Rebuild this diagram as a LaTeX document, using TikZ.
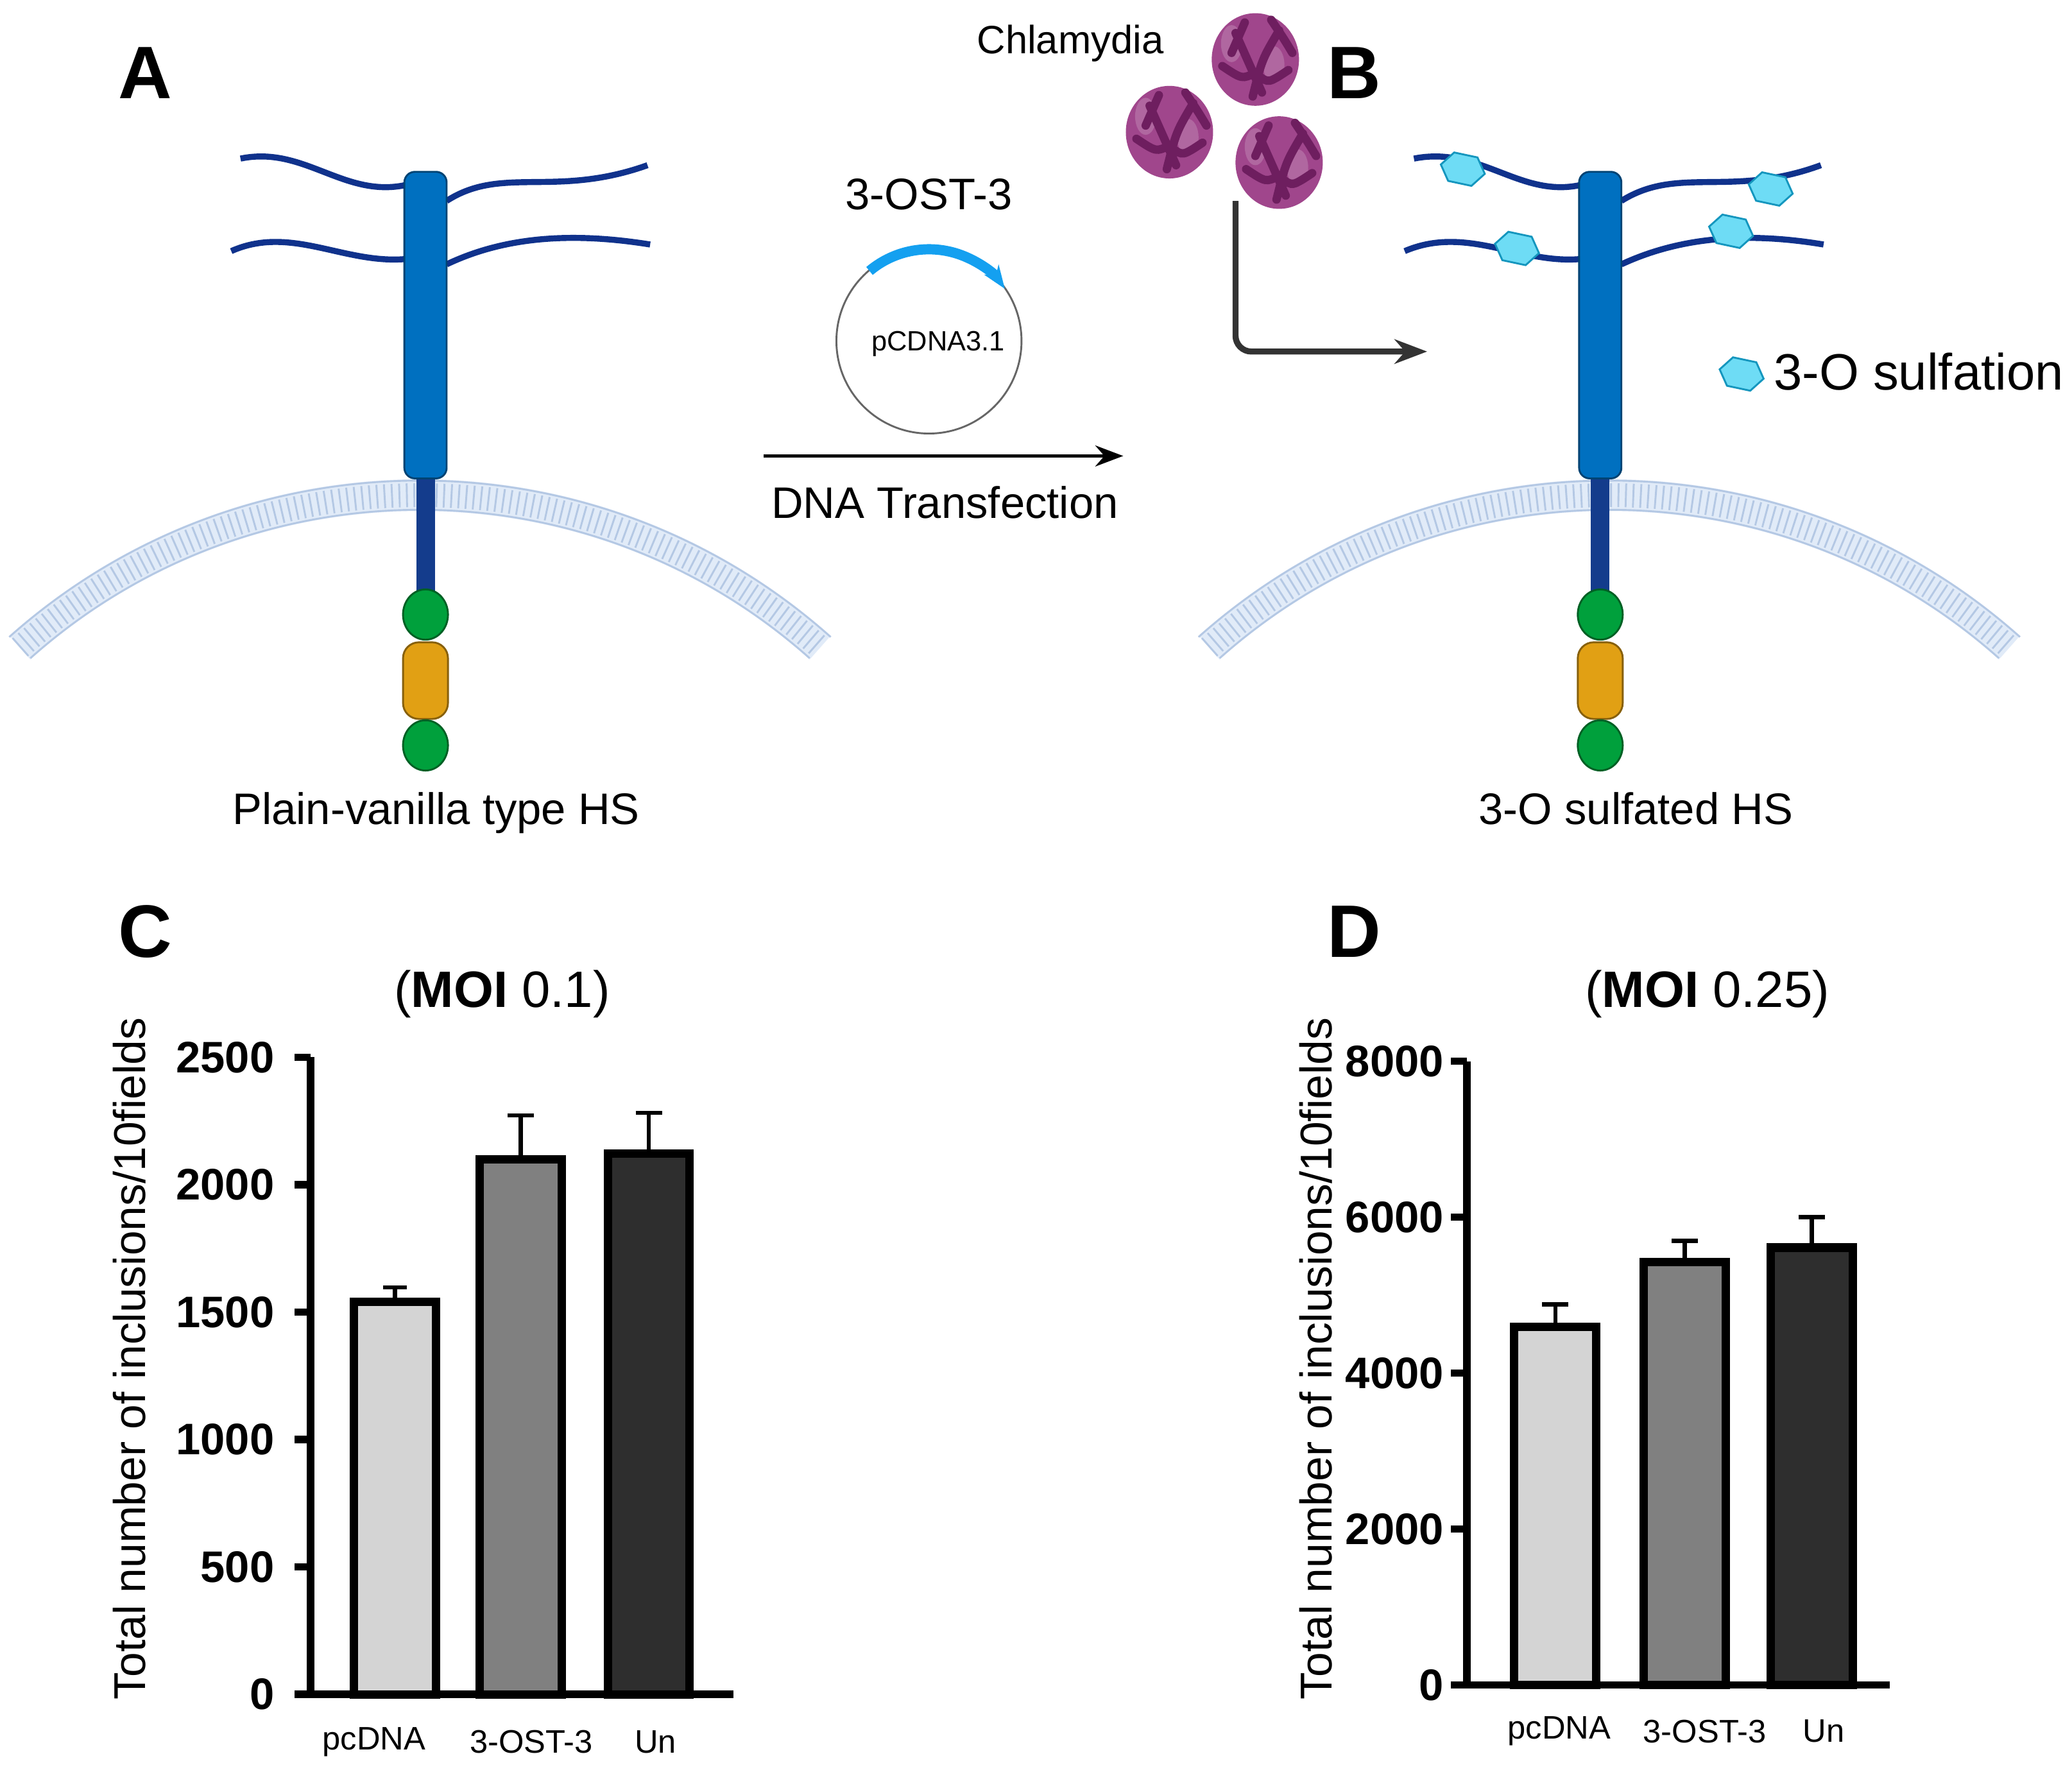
\documentclass[tikz,border=0pt]{standalone}
\usepackage{fontspec}
\setmainfont{Liberation Sans}
\usetikzlibrary{arrows.meta}
\definecolor{hsblue}{RGB}{0,112,192}
\definecolor{chain}{RGB}{16,50,140}
\definecolor{stem}{RGB}{20,60,140}
\definecolor{memb}{RGB}{225,235,248}
\definecolor{membedge}{RGB}{180,200,228}
\definecolor{grn}{RGB}{0,160,60}
\definecolor{org}{RGB}{225,160,20}
\definecolor{sulf}{RGB}{110,220,245}
\definecolor{sulfedge}{RGB}{20,150,190}
\definecolor{chl}{RGB}{160,70,140}
\definecolor{chldark}{RGB}{110,30,95}
\definecolor{plas}{RGB}{20,160,240}
\newcommand{\hsbody}[3]{% core x, membrane centre x, membrane left x
  % membrane
  \draw[memb,line width=0.24cm] (#3,490) arc[start angle=131.7,end angle=48.3,radius=4.55cm];
  \draw[membedge,line width=0.18cm,dash pattern=on 0.4pt off 1.2pt] (#3,490) arc[start angle=131.7,end angle=48.3,radius=4.55cm];
  \draw[membedge,thin] (#3-8,482) arc[start angle=131.7,end angle=48.3,radius=4.67cm];
  \draw[membedge,thin] (#3+8,498) arc[start angle=131.7,end angle=48.3,radius=4.43cm];
  % stem and domains
  \fill[stem] (#1-7,355) rectangle (#1+7,452);
  \draw[hsblue!60!black,fill=hsblue,rounded corners=0.08cm] (#1-16,130) rectangle (#1+16,362);
  \draw[grn!60!black,fill=grn] (#1,465) ellipse[x radius=0.17cm,y radius=0.19cm];
  \draw[org!60!black,fill=org,rounded corners=0.12cm] (#1-17,486) rectangle (#1+17,544);
  \draw[grn!60!black,fill=grn] (#1,564) ellipse[x radius=0.17cm,y radius=0.19cm];
}
\newcommand{\hexa}[2]{%
  \draw[sulfedge,fill=sulf,thin,rotate around={-12:(#1,#2)}] (#1-17,#2)--(#1-9,#2-11)--(#1+9,#2-11)--(#1+17,#2)--(#1+9,#2+11)--(#1-9,#2+11)--cycle;}
\newcommand{\chlam}[2]{%
  \fill[chl] (#1,#2) ellipse[x radius=0.33cm,y radius=0.35cm];
  \fill[chl!70!white,opacity=0.6] (#1-18,#2-12) ellipse[x radius=0.08cm,y radius=0.14cm];
  \fill[chl!70!white,opacity=0.6] (#1+14,#2+4) ellipse[x radius=0.08cm,y radius=0.14cm];
  \draw[chldark,line width=1.8pt,line cap=round] (#1-15,#2-20) -- (#1+5,#2+25) (#1+18,#2-22) .. controls (#1+5,#2) .. (#1-2,#2+28)
    (#1-25,#2+5) .. controls (#1-10,#2+15) .. (#1,#2+10) (#1+25,#2+8) .. controls (#1+10,#2+18) .. (#1+2,#2+12)
    (#1-8,#2-28) -- (#1-18,#2-5) (#1+12,#2-30) .. controls (#1+22,#2-15) .. (#1+28,#2-5);}
\begin{document}
\begin{tikzpicture}[x=0.01cm,y=-0.01cm,
  panel/.style={font=\fontsize{16}{16}\selectfont\bfseries},
  lbl/.style={font=\fontsize{9.5}{10}\selectfont},
  tick/.style={font=\fontsize{9.5}{10}\selectfont\bfseries},
  cat/.style={font=\fontsize{7}{8}\selectfont},
  ylab/.style={font=\fontsize{9.6}{10}\selectfont,rotate=90},
  ax/.style={line width=1.6pt},
  bar/.style={line width=1.8pt,draw=black},
  err/.style={line width=0.9pt}]
\useasboundingbox (0,0) rectangle (1568,1339);
\fill[white] (0,0) rectangle (1568,1339);

% ---------- A ----------
\node[panel] (pA) at (110,55) {A};
\draw[chain,line width=1.3pt] (182,120) .. controls (230,110) and (260,150) .. (307,140);
\draw[chain,line width=1.3pt] (338,152) .. controls (380,125) and (420,150) .. (490,125);
\draw[chain,line width=1.3pt] (175,190) .. controls (220,170) and (260,200) .. (307,196);
\draw[chain,line width=1.3pt] (338,200) .. controls (380,180) and (430,175) .. (492,185);
\hsbody{322}{318}{15}
\node[lbl] (tA) at (330,615) {Plain-vanilla type HS};

% ---------- transfection ----------
\node[lbl] (ost) at (703,147) {3-OST-3};
\draw[gray!80!black,thin] (703,258) circle[radius=0.7cm];
\draw[plas,line width=2.2pt,-{Stealth[length=5pt]}] (658,205) arc[start angle=130,end angle=35,radius=0.7cm];
\node[font=\fontsize{6}{7}\selectfont] (pc) at (710,260) {pCDNA3.1};
\coordinate (t0) at (578,345);
\coordinate (t1) at (850,345);
\draw[-{Stealth[length=6pt]},thick] (t0) -- (t1);
\node[lbl] (dna) at (715,380) {DNA Transfection};

% ---------- Chlamydia ----------
\node[font=\fontsize{8.5}{9}\selectfont] (chl) at (810,33) {Chlamydia};
\chlam{950}{45}
\chlam{885}{100}
\chlam{968}{123}
\coordinate (c0) at (935,152);
\coordinate (c1) at (1080,266);
\draw[black!80,line width=1.3pt,-{Stealth[length=7pt]},rounded corners=0.12cm] (c0) |- (c1);

% ---------- B ----------
\node[panel] (pB) at (1025,55) {B};
\draw[chain,line width=1.3pt] (1070,120) .. controls (1120,110) and (1150,150) .. (1196,140);
\draw[chain,line width=1.3pt] (1227,152) .. controls (1270,125) and (1310,150) .. (1378,125);
\draw[chain,line width=1.3pt] (1063,190) .. controls (1110,170) and (1150,200) .. (1196,196);
\draw[chain,line width=1.3pt] (1227,200) .. controls (1270,180) and (1320,175) .. (1380,185);
\hsbody{1211}{1220}{915}
\hexa{1107}{128}
\hexa{1340}{143}
\hexa{1148}{188}
\hexa{1310}{175}
\hexa{1318}{283}
\node[font=\fontsize{11}{12}\selectfont] (leg) at (1452,281) {3-O sulfation};
\node[lbl] (tB) at (1238,612) {3-O sulfated HS};

% ---------- C ----------
\node[panel] (pC) at (110,705) {C};
\node[font=\fontsize{11}{12}\selectfont] (ttC) at (380,752) {(\textbf{MOI} 0.1)};
\node[ylab] (ylC) at (98,1028) {Total number of inclusions/10fields};
\draw[bar,fill=black!17] (268,1282) rectangle (330,985);
\draw[bar,fill=black!50] (363,1282) rectangle (425,877);
\draw[bar,fill=black!82] (460,1282) rectangle (522,873);
\draw[err] (299,985) -- (299,974) (290,974) -- (308,974);
\draw[err] (394,877) -- (394,844) (384,844) -- (404,844);
\draw[err] (491,873) -- (491,842) (481,842) -- (501,842);
\draw[ax] (235,800) -- (235,1282) -- (555,1282);
\foreach \v [count=\i from 0] in {0,500,1000,1500,2000,2500}{
  \draw[ax] (223,1282-96.4*\i) -- (235,1282-96.4*\i);
  \node[tick,anchor=east] at (220,1282-96.4*\i) {\v};}
\node[cat] (c1a) at (283,1318) {pcDNA};
\node[cat] (c1b) at (402,1318) {3-OST-3};
\node[cat] (c1c) at (496,1318) {Un};

% ---------- D ----------
\node[panel] (pD) at (1025,705) {D};
\node[font=\fontsize{11}{12}\selectfont] (ttD) at (1292,752) {(\textbf{MOI} 0.25)};
\node[ylab] (ylD) at (996,1028) {Total number of inclusions/10fields};
\draw[bar,fill=black!17] (1146,1275) rectangle (1208,1004);
\draw[bar,fill=black!50] (1244,1275) rectangle (1306,955);
\draw[bar,fill=black!82] (1340,1275) rectangle (1402,944);
\draw[err] (1177,1004) -- (1177,987) (1167,987) -- (1187,987);
\draw[err] (1275,955) -- (1275,939) (1265,939) -- (1285,939);
\draw[err] (1371,944) -- (1371,921) (1361,921) -- (1381,921);
\draw[ax] (1110,803) -- (1110,1275) -- (1430,1275);
\foreach \v [count=\i from 0] in {0,2000,4000,6000,8000}{
  \draw[ax] (1098,1275-118*\i) -- (1110,1275-118*\i);
  \node[tick,anchor=east] at (1105,1275-118*\i) {\v};}
\node[cat] (d1a) at (1180,1310) {pcDNA};
\node[cat] (d1b) at (1290,1310) {3-OST-3};
\node[cat] (d1c) at (1380,1310) {Un};
\end{tikzpicture}
\end{document}
